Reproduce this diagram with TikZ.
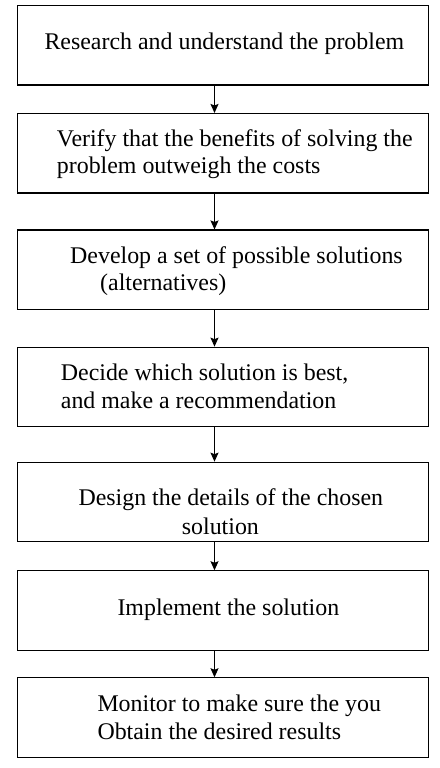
\documentclass[tikz,border=0pt]{standalone}
\usepackage{fontspec}
\setmainfont{Liberation Serif}
\usetikzlibrary{arrows.meta}
\begin{document}
\begin{tikzpicture}[x=1pt,y=-1pt,
  box/.style={draw=black,line width=1.2pt,rectangle,minimum width=411.4pt,minimum height=79.5pt,inner sep=0pt,fill=white},
  txt/.style={anchor=base west,inner sep=0pt,font=\fontsize{23.9}{28}\selectfont,text=black},
  arr/.style={draw=black,line width=1pt,-{Stealth[length=9pt,width=8pt,inset=1.5pt]}}]
\useasboundingbox[fill=white] (0,0) rectangle (439,768);
\node[box] (b1) at (223,45.3) {};
\node[box] (b2) at (223,153.3) {};
\node[box] (b3) at (223,269.8) {};
\node[box] (b4) at (223,387) {};
\node[box] (b5) at (223,502) {};
\node[box] (b6) at (223,610.6) {};
\node[box] (b7) at (223,717.6) {};
\node[txt] (t1) at (44.3,49) {Research and understand the problem};
\node[txt] (t2a) at (56.7,146) {Verify that the benefits of solving the};
\node[txt] (t2b) at (56.7,173.5) {problem outweigh the costs};
\node[txt] (t3a) at (70,263) {Develop a set of possible solutions};
\node[txt] (t3b) at (100,290.5) {(alternatives)};
\node[txt] (t4a) at (60.7,380.7) {Decide which solution is best,};
\node[txt] (t4b) at (60.7,408.3) {and make a recommendation};
\node[txt] (t5a) at (78.3,505) {Design the details of the chosen};
\node[txt] (t5b) at (181.7,534) {solution};
\node[txt] (t6) at (117.3,615) {Implement the solution};
\node[txt] (t7a) at (97.3,711) {Monitor to make sure the you};
\node[txt] (t7b) at (97.3,739) {Obtain the desired results};
\draw[arr] ([xshift=-8.5pt]b1.south) -- ([xshift=-8.5pt]b2.north);
\draw[arr] ([xshift=-8.5pt]b2.south) -- ([xshift=-8.5pt]b3.north);
\draw[arr] ([xshift=-8.5pt]b3.south) -- ([xshift=-8.5pt]b4.north);
\draw[arr] ([xshift=-8.5pt]b4.south) -- ([xshift=-8.5pt]b5.north);
\draw[arr] ([xshift=-8.5pt]b5.south) -- ([xshift=-8.5pt]b6.north);
\draw[arr] ([xshift=-8.5pt]b6.south) -- ([xshift=-8.5pt]b7.north);
\end{tikzpicture}
\end{document}
